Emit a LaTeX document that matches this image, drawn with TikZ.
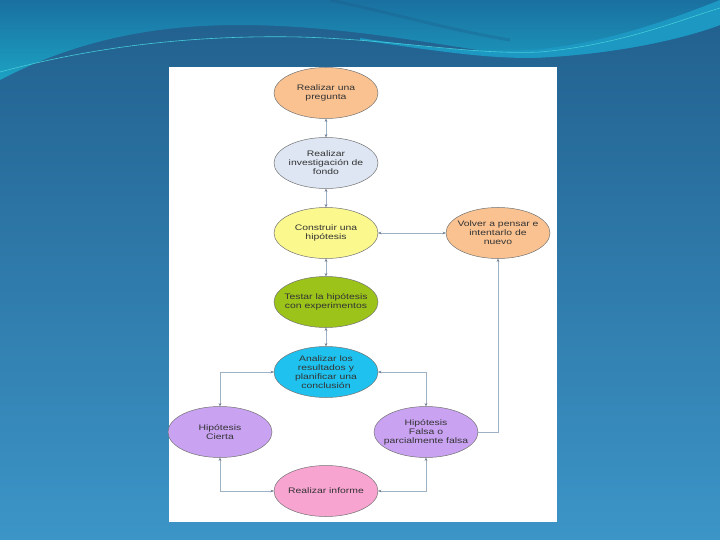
\documentclass[tikz,border=0pt]{standalone}
\usepackage{fontspec}
\setmainfont[FakeStretch=1.3]{Liberation Sans}
\usetikzlibrary{shapes.geometric, positioning, arrows.meta}

\definecolor{fondoarriba}{HTML}{215F8D}
\definecolor{fondoabajo}{HTML}{3C95C7}
\definecolor{olaarriba}{HTML}{1A70A0}
\definecolor{olaabajo}{HTML}{1CA2C3}
\definecolor{olabanda}{HTML}{1C98C2}
\definecolor{olaoscura}{HTML}{1D5A86}
\definecolor{olalinea}{HTML}{45CBD8}
\definecolor{naranja}{HTML}{FAC291}
\definecolor{celeste}{HTML}{DDE6F2}
\definecolor{amarillo}{HTML}{FBF88E}
\definecolor{verde}{HTML}{9CC31A}
\definecolor{cian}{HTML}{1FC2EF}
\definecolor{morado}{HTML}{C9A2F2}
\definecolor{rosa}{HTML}{F8A4D1}
\definecolor{enlacegris}{HTML}{9EB0C4}
\definecolor{puntagris}{HTML}{6E7F92}

\tikzset{
  paso/.style={ellipse, draw=black!55, line width=0.5pt,
    minimum width=104pt, minimum height=51pt,
    inner xsep=-8pt, inner ysep=0pt, outer sep=0pt, align=center,
    font=\fontsize{8}{9}\selectfont, text=black!80},
  punta/.tip={Stealth[length=3.4pt, width=2.6pt, color=puntagris]},
  enlace/.style={draw=enlacegris, line width=0.7pt, punta-punta},
  enlaceuno/.style={draw=enlacegris, line width=0.7pt, -punta},
}

\begin{document}
\begin{tikzpicture}[x=1pt, y=-1pt]
  \useasboundingbox (0,0) rectangle (720,540);

  % Background and waves
  \shade[top color=fondoarriba, bottom color=fondoabajo] (0,0) rectangle (720,540);
  \shade[top color=olaarriba, bottom color=olaabajo]
    (0,0) -- (0,80) .. controls (80,38) and (160,25) .. (240,25)
    .. controls (340,25) and (440,45) .. (530,58)
    .. controls (610,55) and (680,40) .. (720,25) -- (720,0) -- cycle;
  \fill[olabanda]
    (360,38) .. controls (440,50) and (480,52) .. (530,50)
    .. controls (600,45) and (670,20) .. (720,0) -- (720,25)
    .. controls (680,40) and (610,55) .. (530,58)
    .. controls (480,58) and (430,50) .. (360,40) -- cycle;
  \draw[olaoscura, line width=3pt, opacity=.3]
    (330,0) .. controls (400,15) and (450,30) .. (510,40);
  \draw[olalinea, line width=0.6pt]
    (0,72) .. controls (100,45) and (200,35) .. (300,37)
    .. controls (400,40) and (470,55) .. (540,52)
    .. controls (620,45) and (680,20) .. (720,8);

  % Panel
  \fill[white] (169,67) rectangle (557,522);

  % Define steps
  \node[paso, fill=naranja] (pregunta) at (326,93) {Realizar una\\pregunta};
  \node[paso, fill=celeste, below=19pt of pregunta] (fondo) {Realizar\\investigación de\\fondo};
  \node[paso, fill=amarillo, below=19pt of fondo] (hipotesis) {Construir una\\hipótesis};
  \node[paso, fill=naranja, right=68pt of hipotesis] (volver) {Volver a pensar e\\intentarlo de\\nuevo};
  \node[paso, fill=verde, below=18pt of hipotesis] (testar) {Testar la hipótesis\\con experimentos};
  \node[paso, fill=cian, below=19pt of testar] (analizar) {Analizar los\\resultados y\\planificar una\\conclusión};
  \node[paso, fill=morado, below=9pt of analizar, xshift=-106pt] (cierta) {Hipótesis\\Cierta};
  \node[paso, fill=morado, below=9pt of analizar, xshift=100pt] (falsa) {Hipótesis\\Falsa o\\parcialmente falsa};
  \node[paso, fill=rosa, below=68pt of analizar] (informe) {Realizar informe};

  % Draw links
  \draw[enlace] (pregunta) -- (fondo);
  \draw[enlace] (fondo) -- (hipotesis);
  \draw[enlace] (hipotesis) -- (volver);
  \draw[enlace] (hipotesis) -- (testar);
  \draw[enlace] (testar) -- (analizar);
  \draw[enlace] (analizar.west) -| (cierta.north);
  \draw[enlace] (analizar.east) -| (falsa.north);
  \draw[enlace] (informe.west) -| (cierta.south);
  \draw[enlace] (informe.east) -| (falsa.south);
  \draw[enlaceuno] (falsa.east) -| (volver.south);
\end{tikzpicture}
\end{document}
